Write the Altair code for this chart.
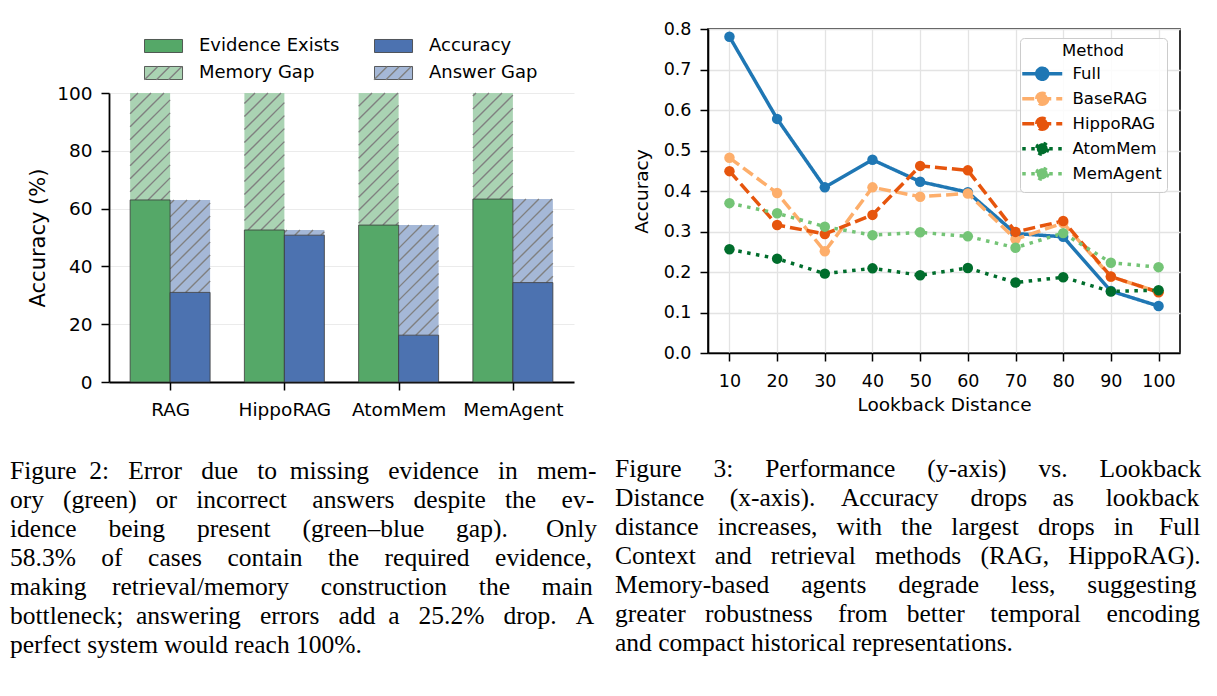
import json
import math
import altair as alt
import pandas as pd

# ---------------- Figure 2 (left) data ----------------
methods = ["RAG", "HippoRAG", "AtomMem", "MemAgent"]
evidence_exists = [63.0, 52.6, 54.3, 63.3]
accuracy_pct = [31.0, 50.8, 16.2, 34.4]
perfect_score = 100
left_y_ticks = [0, 20, 40, 60, 80, 100]
bar_kinds = ["Evidence Exists", "Memory Gap", "Accuracy", "Answer Gap"]
bar_colors = ["#55a868", "#aad3b3", "#4c72b0", "#a5b8d7"]

# ---------------- Figure 3 (right) data ----------------
lookback = [10, 20, 30, 40, 50, 60, 70, 80, 90, 100]
method_names = ["Full", "BaseRAG", "HippoRAG", "AtomMem", "MemAgent"]
acc_full = [0.781, 0.578, 0.409, 0.477, 0.423, 0.397, 0.295, 0.287, 0.153, 0.116]
acc_base_rag = [0.482, 0.395, 0.251, 0.409, 0.386, 0.394, 0.281, 0.321, 0.188, 0.151]
acc_hippo_rag = [0.449, 0.316, 0.294, 0.341, 0.462, 0.451, 0.299, 0.326, 0.189, 0.150]
acc_atom_mem = [0.256, 0.233, 0.196, 0.209, 0.192, 0.210, 0.174, 0.187, 0.152, 0.155]
acc_mem_agent = [0.370, 0.345, 0.312, 0.291, 0.298, 0.288, 0.260, 0.296, 0.223, 0.212]
method_colors = ["#1f77b4", "#fdae6b", "#e6550d", "#006d2c", "#74c476"]
method_dashes = [[1, 0], [12, 5], [12, 5], [3.5, 5.5], [3.5, 5.5]]
right_y_ticks = [0.0, 0.1, 0.2, 0.3, 0.4, 0.5, 0.6, 0.7, 0.8]

# ---------------- captions ----------------
caption_left = [
    "Figure 2: Error due to missing evidence in mem-",
    "ory (green) or incorrect answers despite the ev-",
    "idence being present (green\u2013blue gap). Only",
    "58.3% of cases contain the required evidence,",
    "making retrieval/memory construction the main",
    "bottleneck; answering errors add a 25.2% drop. A",
    "perfect system would reach 100%.",
]
caption_right = [
    "Figure 3: Performance (y-axis) vs. Lookback",
    "Distance (x-axis). Accuracy drops as lookback",
    "distance increases, with the largest drops in Full",
    "Context and retrieval methods (RAG, HippoRAG).",
    "Memory-based agents degrade less, suggesting",
    "greater robustness from better temporal encoding",
    "and compact historical representations.",
]

FONT = "DejaVu Sans"
SERIF = "Liberation Serif"
CAP_SIZE = 25.5
CAP_WIDTH = 584

# Times-compatible advance widths (1/1000 em) used to justify caption lines
_TW = {" ": 250, "!": 333, "%": 833, "(": 333, ")": 333, ",": 250, "-": 333,
       ".": 250, "/": 278, ":": 278, ";": 278, "\u2013": 500,
       "A": 722, "B": 667, "C": 667, "D": 722, "E": 611, "F": 556, "G": 722,
       "H": 722, "I": 333, "L": 611, "M": 889, "N": 722, "O": 722, "P": 556,
       "R": 667, "S": 556, "T": 611, "U": 722, "W": 944,
       "a": 444, "b": 500, "c": 444, "d": 500, "e": 444, "f": 333, "g": 500,
       "h": 500, "i": 278, "j": 278, "k": 500, "l": 278, "m": 778, "n": 500,
       "o": 500, "p": 500, "q": 500, "r": 333, "s": 389, "t": 278, "u": 500,
       "v": 500, "w": 722, "x": 500, "y": 500, "z": 444}


def justify(line, width, size):
    words = line.split(" ")
    gaps = len(words) - 1
    natural = sum(_TW.get(ch, 500) for ch in line) * size / 1000.0
    space = 0.25 * size
    extra = max(0, int(round((width - natural) / space)))
    out = words[0]
    for j, w in enumerate(words[1:]):
        k = (extra * (j + 1)) // gaps - (extra * j) // gaps
        out += " " + "\u00a0" * k + w
    return out


def justified(lines):
    return [justify(l, CAP_WIDTH, CAP_SIZE) for l in lines[:-1]] + [lines[-1]]


# ================= left chart =================
LW = 465
BAR_PX = 289          # height of the 0-100 span
TOP_ROOM = 64         # room above 100 for the legend
LH = BAR_PX + TOP_ROOM
BAR_W = 0.35
X_DOM = [-0.535, 3.535]
KX = LW / (X_DOM[1] - X_DOM[0])
KY = BAR_PX / perfect_score
HATCH_STEP = 13.0
HATCH_COLOR = "#808080"

bar_rows = []
for i, m in enumerate(methods):
    e, a = evidence_exists[i], accuracy_pct[i]
    bar_rows += [
        {"method": m, "kind": "Evidence Exists", "x0": i - BAR_W, "x1": i, "y0": 0, "y1": e},
        {"method": m, "kind": "Accuracy", "x0": i, "x1": i + BAR_W, "y0": 0, "y1": a},
        {"method": m, "kind": "Memory Gap", "x0": i - BAR_W, "x1": i, "y0": e, "y1": perfect_score},
        {"method": m, "kind": "Answer Gap", "x0": i, "x1": i + BAR_W, "y0": a, "y1": e},
    ]
bars = pd.DataFrame(bar_rows)
solid = bars[bars["kind"].isin(["Evidence Exists", "Accuracy"])]
gaps = bars[bars["kind"].isin(["Memory Gap", "Answer Gap"])]

# diagonal hatch texture clipped to each gap bar
hatch_rows = []
for r in gaps.itertuples():
    X0 = (r.x0 - X_DOM[0]) * KX
    X1 = (r.x1 - X_DOM[0]) * KX
    Y0 = r.y0 * KY
    Y1 = r.y1 * KY
    k0 = math.ceil((Y0 - X1) / HATCH_STEP)
    k1 = math.floor((Y1 - X0) / HATCH_STEP)
    for k in range(k0, k1 + 1):
        c = k * HATCH_STEP
        lo = max(X0, Y0 - c)
        hi = min(X1, Y1 - c)
        if hi - lo > 0.8:
            hatch_rows.append({
                "kind": r.kind,
                "hx": X_DOM[0] + lo / KX, "hx2": X_DOM[0] + hi / KX,
                "hy": (lo + c) / KY, "hy2": (hi + c) / KY,
            })
hatch = pd.DataFrame(hatch_rows)

lx_scale = alt.Scale(domain=X_DOM, nice=False, zero=False)
ly_scale = alt.Scale(domain=[0, perfect_score], range=[LH, TOP_ROOM], nice=False)
lx_axis = alt.Axis(values=list(range(len(methods))),
                   labelExpr=json.dumps(methods) + "[datum.value]",
                   title=None, grid=False, labelFontSize=18.5, labelPadding=10,
                   tickSize=8, tickWidth=1.5, domainWidth=1.8,
                   labelFlush=False, labelOverlap=False)
ly_axis = alt.Axis(values=left_y_ticks, title="Accuracy (%)", titleFontSize=21,
                   titlePadding=8, labelFontSize=18.5, labelPadding=9,
                   tickSize=8, tickWidth=1.5, domainWidth=1.8,
                   grid=True, gridColor="#ebebeb", gridWidth=1)

RECT_PATH = "M-1.07,-0.93L4.36,-0.93L4.36,0.93L-1.07,0.93Z"
HATCH_PATH = "M-1.07,0.93L0.79,-0.93M0.64,0.93L2.50,-0.93M2.36,0.93L4.22,-0.93"

fill_legend = alt.Legend(orient="none", legendX=34, legendY=8, padding=0,
                         columns=2, columnPadding=32, rowPadding=9, title=None,
                         symbolType=RECT_PATH, symbolSize=196,
                         symbolStrokeColor="#3a3a3a", symbolStrokeWidth=0.8,
                         labelFontSize=18, labelOffset=38)
hatch_legend = alt.Legend(orient="none", legendX=34, legendY=35, padding=0,
                          columns=2, columnPadding=172.5, rowPadding=9, title=None,
                          symbolType=HATCH_PATH, symbolSize=196,
                          symbolStrokeWidth=1.4, labelFontSize=18, labelOffset=37,
                          labelExpr="''")

fill_enc = alt.Fill("kind:N", scale=alt.Scale(domain=bar_kinds, range=bar_colors),
                    legend=fill_legend)

gap_layer = alt.Chart(gaps).mark_rect().encode(
    x=alt.X("x0:Q", scale=lx_scale, axis=lx_axis), x2="x1",
    y=alt.Y("y0:Q", scale=ly_scale, axis=ly_axis), y2="y1",
    fill=fill_enc,
)
hatch_layer = alt.Chart(hatch).mark_rule(strokeWidth=1.4).encode(
    x=alt.X("hx:Q", scale=lx_scale, axis=lx_axis), x2="hx2",
    y=alt.Y("hy:Q", scale=ly_scale, axis=ly_axis), y2="hy2",
    stroke=alt.Stroke("kind:N",
                      scale=alt.Scale(domain=["Memory Gap", "Answer Gap"],
                                      range=[HATCH_COLOR, HATCH_COLOR]),
                      legend=hatch_legend),
)
solid_layer = alt.Chart(solid).mark_rect(stroke="#3a3a3a", strokeWidth=0.8).encode(
    x=alt.X("x0:Q", scale=lx_scale, axis=lx_axis), x2="x1",
    y=alt.Y("y0:Q", scale=ly_scale, axis=ly_axis), y2="y1",
    fill=fill_enc,
)

left = alt.layer(gap_layer, hatch_layer, solid_layer).properties(
    width=LW, height=LH,
    title=alt.TitleParams(text=justified(caption_left), orient="bottom",
                          anchor="start", frame="group", dx=-99, offset=40,
                          font=SERIF, fontSize=CAP_SIZE, fontWeight="normal",
                          lineHeight=29, color="black"),
)

# ================= right chart =================
RW, RH = 472, 324
series = {
    "Full": acc_full, "BaseRAG": acc_base_rag, "HippoRAG": acc_hippo_rag,
    "AtomMem": acc_atom_mem, "MemAgent": acc_mem_agent,
}
look_rows = [
    {"Method": n, "Lookback": lb, "Accuracy": v}
    for n in method_names for lb, v in zip(lookback, series[n])
]
look = pd.DataFrame(look_rows)

rx_scale = alt.Scale(domain=[5.5, 104.5], nice=False, zero=False)
ry_scale = alt.Scale(domain=[0, 0.8], nice=False)
rx_axis = alt.Axis(values=lookback, title="Lookback Distance", titleFontSize=18.5,
                   titlePadding=6, labelFontSize=17.5, labelPadding=11,
                   tickSize=8, tickWidth=1.5, domainWidth=1.6, grid=True,
                   gridColor="#e3e3e3", gridWidth=1.3, labelFlush=False)
ry_axis = alt.Axis(values=right_y_ticks, format=".1f", title="Accuracy",
                   titleFontSize=18.5, titlePadding=12, labelFontSize=17.5,
                   labelPadding=9, tickSize=8, tickWidth=1.5, domainWidth=1.6,
                   grid=True, gridColor="#e3e3e3", gridWidth=1.3)

METHOD_SYMBOL = "M-2.2,0L5.8,0M2.9,0A1.1,1.1,0,1,1,0.7,0A1.1,1.1,0,1,1,2.9,0Z"
method_legend = alt.Legend(orient="none", legendX=312, legendY=9, title="Method",
                           titleFontSize=16.5, titleFontWeight="normal",
                           titleAnchor="middle", titlePadding=6,
                           labelFontSize=16.5, labelOffset=31, rowPadding=-1,
                           padding=5, fillColor="rgba(255,255,255,0.85)",
                           strokeColor="#cccccc", cornerRadius=4,
                           symbolType=METHOD_SYMBOL, symbolSize=100,
                           symbolStrokeWidth=3.5)
color_scale = alt.Scale(domain=method_names, range=method_colors)
dash_scale = alt.Scale(domain=method_names, range=method_dashes)

lines = alt.Chart(look).mark_line(strokeWidth=3.5, strokeJoin="round").encode(
    x=alt.X("Lookback:Q", scale=rx_scale, axis=rx_axis),
    y=alt.Y("Accuracy:Q", scale=ry_scale, axis=ry_axis),
    color=alt.Color("Method:N", scale=color_scale, legend=method_legend),
    strokeDash=alt.StrokeDash("Method:N", scale=dash_scale, legend=method_legend),
)
points = alt.Chart(look).mark_circle(size=110, opacity=1).encode(
    x=alt.X("Lookback:Q", scale=rx_scale, axis=rx_axis),
    y=alt.Y("Accuracy:Q", scale=ry_scale, axis=ry_axis),
    color=alt.Color("Method:N", scale=color_scale, legend=method_legend),
)

right = alt.layer(lines, points).properties(
    width=RW, height=RH,
    view=alt.ViewBackground(stroke="black", strokeWidth=1.6),
    title=alt.TitleParams(text=justified(caption_right), orient="bottom",
                          anchor="start", frame="group", dx=-93, offset=43,
                          font=SERIF, fontSize=CAP_SIZE, fontWeight="normal",
                          lineHeight=29, color="black"),
)

chart = alt.concat(left, right, columns=2, align="none", spacing=16).resolve_scale(
    color="independent", fill="independent", stroke="independent",
    strokeDash="independent",
).properties(
    padding={"left": 9, "top": 19, "right": 0, "bottom": 0},
    background="white",
).configure_view(stroke="transparent").configure_axis(
    labelFont=FONT, titleFont=FONT, labelColor="black", titleColor="black",
    domainColor="black", tickColor="black", titleFontWeight="normal",
).configure_legend(
    labelFont=FONT, titleFont=FONT, labelColor="black", titleColor="black",
)

chart.save("out.html", embed_options={"renderer": "svg", "actions": False})
